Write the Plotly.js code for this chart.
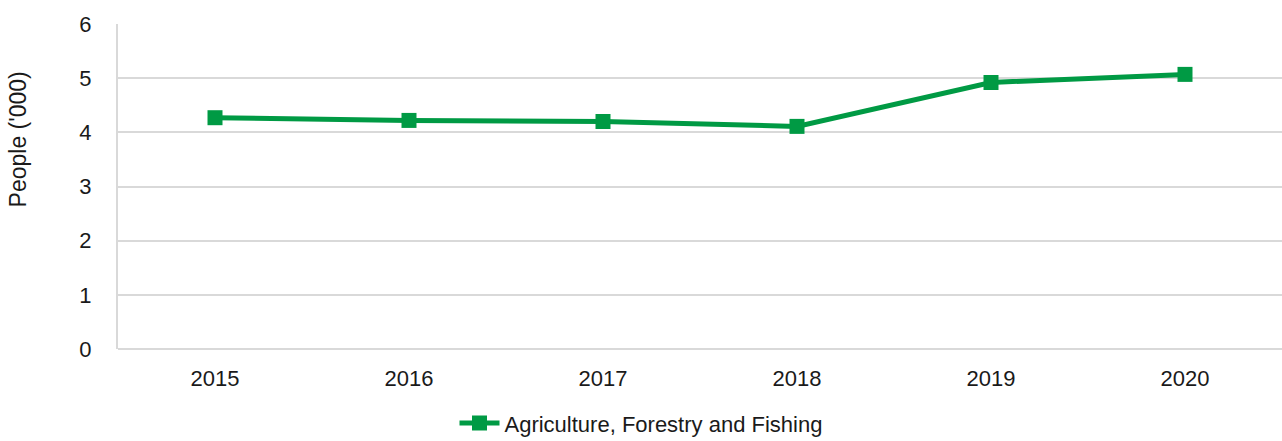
<!DOCTYPE html>
<html>
<head>
<meta charset="utf-8">
<script src="https://cdn.plot.ly/plotly-3.0.1.min.js"></script>
<style>html,body{margin:0;padding:0;background:#fff;}#chart{width:1282px;height:441px;}</style>
</head>
<body>
<div id="chart"></div>
<script>
const years = ['2015', '2016', '2017', '2018', '2019', '2020'];
const agriculture = [4.27, 4.22, 4.20, 4.11, 4.92, 5.07];
const seriesName = 'Agriculture, Forestry and Fishing';
const yTicks = [0, 1, 2, 3, 4, 5, 6];
const yTitle = "People ('000)";

const green = '#009A44';
const trace = {
  x: years,
  y: agriculture,
  name: seriesName,
  type: 'scatter',
  mode: 'lines+markers',
  line: {color: green, width: 5},
  marker: {symbol: 'square', size: 15, color: green},
  showlegend: true
};

const layout = {
  width: 1282,
  height: 441,
  margin: {l: 118, r: 0, t: 24, b: 92},
  paper_bgcolor: '#ffffff',
  plot_bgcolor: '#ffffff',
  font: {family: '"Liberation Sans", Arial, sans-serif', color: '#1a1a1a', size: 22},
  xaxis: {
    type: 'category',
    range: [-0.5, 5.5],
    showgrid: false,
    showline: false,
    zeroline: false,
    ticks: '',
    tickfont: {size: 22, color: '#1a1a1a'},
    ticklabelstandoff: 14
  },
  yaxis: {
    range: [0, 6],
    tickvals: yTicks,
    showgrid: true,
    gridcolor: '#d9d9d9',
    gridwidth: 2,
    showline: true,
    linecolor: '#d9d9d9',
    linewidth: 2,
    zeroline: true,
    zerolinecolor: '#d9d9d9',
    zerolinewidth: 2,
    ticks: '',
    ticklabelstandoff: 20,
    tickfont: {size: 22, color: '#1a1a1a'}
  },
  annotations: [{
    text: yTitle,
    textangle: -90,
    xref: 'paper', yref: 'paper',
    x: -0.0859, y: 0.645,
    xanchor: 'center', yanchor: 'middle',
    showarrow: false,
    font: {size: 23, color: '#1a1a1a'}
  }],
  showlegend: true,
  legend: {
    orientation: 'h',
    xref: 'container',
    yref: 'container',
    x: 0.5,
    xanchor: 'center',
    y: 0.088,
    yanchor: 'top',
    font: {size: 22, color: '#1a1a1a'},
    itemwidth: 40
  }
};

Plotly.newPlot('chart', [trace], layout, {displayModeBar: false, staticPlot: true});
</script>
</body>
</html>
